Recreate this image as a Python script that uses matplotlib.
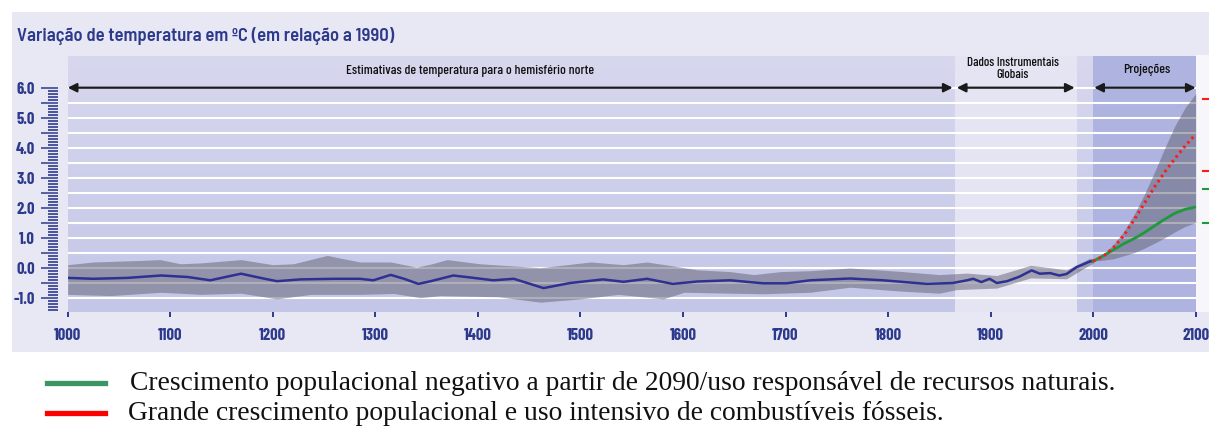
import matplotlib
matplotlib.use("Agg")
import matplotlib.pyplot as plt
import numpy as np
from matplotlib.patches import Rectangle
from matplotlib.ticker import FixedLocator, FuncFormatter
from matplotlib.colors import LinearSegmentedColormap

# ---------------- data ----------------
hist_years = [1000, 1025, 1058, 1091, 1117, 1139, 1169, 1188, 1204, 1227, 1260, 1285, 1298,
              1315, 1328, 1342, 1354, 1376, 1396, 1415, 1435, 1464, 1490, 1522, 1542, 1565,
              1590, 1614, 1646, 1678, 1701, 1724, 1763, 1795, 1838, 1863, 1877, 1883, 1891,
              1899, 1906, 1916, 1928, 1940, 1948, 1958, 1967, 1974, 1984, 1997, 2000]
hist_mean = [-0.34, -0.37, -0.34, -0.26, -0.31, -0.42, -0.20, -0.34, -0.45, -0.39, -0.37, -0.37, -0.42,
             -0.24, -0.37, -0.54, -0.45, -0.26, -0.34, -0.42, -0.37, -0.68, -0.51, -0.39, -0.47, -0.37,
             -0.54, -0.46, -0.42, -0.52, -0.52, -0.42, -0.36, -0.42, -0.54, -0.51, -0.42, -0.37, -0.48,
             -0.37, -0.51, -0.45, -0.30, -0.09, -0.20, -0.18, -0.26, -0.21, 0.02, 0.21, 0.22]

upper_years = [1000, 1025, 1070, 1090, 1110, 1130, 1169, 1200, 1220, 1253, 1285, 1315, 1340, 1354,
               1370, 1402, 1461, 1510, 1542, 1565, 1590, 1614, 1646, 1669, 1695, 1724, 1763, 1811,
               1850, 1877, 1906, 1939, 1974, 1997, 2000]
upper_vals = [0.10, 0.19, 0.24, 0.27, 0.13, 0.16, 0.27, 0.10, 0.13, 0.41, 0.19, 0.19, 0.02, 0.12,
              0.27, 0.13, 0.00, 0.19, 0.10, 0.19, 0.06, -0.07, -0.13, -0.23, -0.13, -0.10, -0.01, -0.12,
              -0.23, -0.18, -0.26, 0.08, -0.07, 0.32, 0.30]

lower_years = [1000, 1042, 1091, 1130, 1169, 1204, 1237, 1285, 1318, 1344, 1363, 1420, 1461, 1500,
               1537, 1581, 1601, 1646, 1678, 1724, 1763, 1812, 1850, 1867, 1906, 1939, 1974, 1997, 2000]
lower_vals = [-0.89, -0.93, -0.82, -0.89, -0.85, -1.04, -0.89, -0.89, -0.86, -1.00, -0.93, -0.97, -1.15, -1.04,
              -0.89, -1.04, -0.82, -0.85, -0.87, -0.82, -0.65, -0.78, -0.85, -0.73, -0.68, -0.34, -0.37, 0.10, 0.14]

proj_years = [2000, 2010, 2020, 2030, 2040, 2050, 2060, 2070, 2080, 2090, 2100]
proj_red = [0.22, 0.38, 0.68, 1.08, 1.60, 2.15, 2.70, 3.20, 3.65, 4.07, 4.45]
proj_green = [0.22, 0.40, 0.60, 0.80, 0.97, 1.17, 1.40, 1.62, 1.82, 1.95, 2.02]
proj_upper = [0.22, 0.45, 0.78, 1.22, 1.78, 2.45, 3.20, 4.00, 4.75, 5.35, 5.80]
proj_lower = [0.22, 0.25, 0.30, 0.40, 0.50, 0.65, 0.82, 1.00, 1.20, 1.38, 1.50]

red_marks = [5.62, 3.24]
green_marks = [2.62, 1.48]

x_ticks = [1000, 1100, 1200, 1300, 1400, 1500, 1600, 1700, 1800, 1900, 2000, 2100]

title = "Variação de temperatura em ºC (em relação a 1990)"
hdr1 = "Estimativas de temperatura para o hemisfério norte"
hdr2 = "Dados Instrumentais\nGlobais"
hdr3 = "Projeções"
leg_green = "Crescimento populacional negativo a partir de 2090/uso responsável de recursos naturais."
leg_red = "Grande crescimento populacional e uso intensivo de combustíveis fósseis."

# ---------------- style ----------------
SEMI = ["Barlow Semi Condensed", "DejaVu Sans"]
COND = ["Barlow Condensed", "DejaVu Sans"]
SERIF = ["Liberation Serif", "DejaVu Serif"]
NAVY = "#2d3a8c"

W, H = 1209, 429
fig = plt.figure(figsize=(W / 100, H / 100), dpi=100)
fig.patch.set_facecolor("white")


def fx(px):
    return px / W


def fy(py):
    return 1 - py / H


# outer panel
fig.patches.append(Rectangle((fx(12), fy(352)), fx(1209) - fx(12), fy(12) - fy(352),
                             transform=fig.transFigure, facecolor="#e8e8f4", edgecolor="none", zorder=-2))
fig.patches.append(Rectangle((fx(1196), fy(312)), fx(1209) - fx(1196), fy(55) - fy(312),
                             transform=fig.transFigure, facecolor="#f6f6fb", edgecolor="none", zorder=-1))

x0, x1 = 67.7, 1195.7
ax = fig.add_axes([fx(x0), fy(312), fx(x1) - fx(x0), fy(56) - fy(312)])
ax.set_zorder(1)
ymin, ymax = -1.477, 7.057
ax.patch.set_alpha(0)

# background regions
grad = np.linspace(0, 1, 256).reshape(-1, 1)
cmap = LinearSegmentedColormap.from_list("lav", ["#c3c6e7", "#d7d7ee"])
for a, b in [(1000, 1865), (1984, 2000)]:
    ax.imshow(grad, extent=(a, b, ymin, ymax), origin="lower", aspect="auto", cmap=cmap, zorder=0)
ax.axvspan(1865, 1984, color="#e4e4f3", zorder=0, lw=0)
ax.axvspan(2000, 2100, color="#aeb3df", zorder=0, lw=0)
ax.set_xlim(1000, 2100)
ax.set_ylim(ymin, ymax)

for y in np.arange(-1.0, 6.01, 0.5):
    ax.axhline(y, color="white", lw=1.5, zorder=1)

# data
yrs_all = sorted(set(upper_years) | set(lower_years))
ax.fill_between(yrs_all, np.interp(yrs_all, lower_years, lower_vals),
                np.interp(yrs_all, upper_years, upper_vals),
                color="#606070", alpha=0.5, lw=0, zorder=2)
ax.fill_between(proj_years, proj_lower, proj_upper, color="#606070", alpha=0.5, lw=0, zorder=2)
ax.plot(hist_years, hist_mean, color="#2e3192", lw=1.8, zorder=3, solid_joinstyle="round")
ax.plot(proj_years, proj_green, color="#1e9a3a", lw=2, zorder=3)
ax.plot(proj_years, proj_red, color="#ff1a1a", lw=2.2, ls=(0, (0.8, 1.2)), zorder=4)

for v in red_marks:
    ax.plot([2107.5, 2113.5], [v, v], color="#ff1a1a", lw=1.5, clip_on=False)
for v in green_marks:
    ax.plot([2107.5, 2113.5], [v, v], color="#1e9a3a", lw=1.5, clip_on=False)

# arrows
arrow_kw = dict(arrowstyle="<|-|>", color="#1a1a1a", lw=1.6, mutation_scale=13,
                shrinkA=0, shrinkB=0)
for a, b in [(1000, 1863), (1867, 1982), (2001, 2100)]:
    ax.annotate("", xy=(b, 6.0), xytext=(a, 6.0), arrowprops=arrow_kw, zorder=5,
                annotation_clip=False)

# axes styling
for s in ax.spines.values():
    s.set_visible(False)
ax.spines["left"].set_position(("outward", 7))
ax.yaxis.set_major_locator(FixedLocator(np.arange(-1.0, 6.01, 0.5)))
ax.yaxis.set_minor_locator(FixedLocator(np.arange(-1.4, 6.01, 0.1)))
ax.yaxis.set_major_formatter(FuncFormatter(
    lambda v, p: f"{v:.1f}" if abs(v - round(v)) < 1e-6 else ""))
ax.tick_params(axis="y", which="major", length=12.5, width=1.1, color=NAVY, pad=4,
               labelsize=12, labelcolor=NAVY)
ax.tick_params(axis="y", which="minor", length=7.5, width=1.2, color=NAVY)
for lab in ax.get_yticklabels():
    lab.set_fontfamily(COND)
    lab.set_fontweight("bold")

ax.set_xticks(x_ticks)
ax.set_xticklabels([str(t) for t in x_ticks])
ax.tick_params(axis="x", which="major", length=3.5, width=1.4, color=NAVY, pad=8,
               labelsize=12, labelcolor=NAVY)
for lab in ax.get_xticklabels():
    lab.set_fontfamily(COND)
    lab.set_fontweight("bold")

# texts
fig.text(fx(17), fy(36), title, fontsize=13.4, fontweight="semibold", color=NAVY,
         family=SEMI, ha="left", va="center")
fig.text(fx(470), fy(71), hdr1, fontsize=9.8, fontweight="medium", color="#111111", family=COND,
         ha="center", va="center")
fig.text(fx(1013), fy(69), hdr2, fontsize=9.3, fontweight="medium", color="#111111", family=COND,
         ha="center", va="center", linespacing=1.05)
fig.text(fx(1147), fy(70), hdr3, fontsize=9.8, fontweight="medium", color="#111111", family=COND,
         ha="center", va="center")

# legend below
fig.add_artist(plt.Line2D([fx(47), fx(105)], [fy(383), fy(383)], transform=fig.transFigure,
                          color="#3c9664", lw=3.8))
fig.add_artist(plt.Line2D([fx(47), fx(105)], [fy(413), fy(413)], transform=fig.transFigure,
                          color="#ff0000", lw=3.8))
fig.text(fx(130), fy(384), leg_green, fontsize=19.8, family=SERIF, ha="left", va="center", color="#111111")
fig.text(fx(128), fy(414), leg_red, fontsize=19.8, family=SERIF, ha="left", va="center", color="#111111")

fig.savefig("out.png", dpi=100, facecolor="white")
